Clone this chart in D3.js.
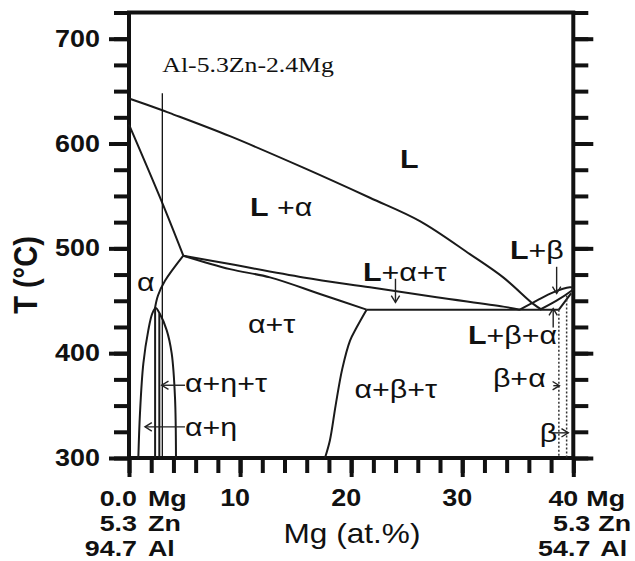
<!DOCTYPE html>
<html>
<head>
<meta charset="utf-8">
<script src="https://cdn.jsdelivr.net/npm/d3@7"></script>
<style>
  body { margin: 0; background: #fff; }
  svg { display: block; }
  text { fill: #111; }
</style>
</head>
<body>
<svg id="chart" width="635" height="561"></svg>
<script>
// ---- Phase boundaries of the Al-5.3Zn-xMg isopleth: [Mg at.%, T °C] ----
const liquidusAlpha = [[0, 643], [2.94, 632], [3.69, 629], [9.09, 607], [15.69, 577], [21.69, 548.3], [26.19, 526], [30.69, 494.5], [33.69, 472.3], [36.39, 447], [37.15, 441.5]];
const solidusAlpha = [[0, 618], [2.93, 545], [4.89, 493]];
const solvusAlpha = [[4.89, 493], [3.24, 469], [2.61, 455], [2.34, 443]];
const upperLAT = [[4.89, 493], [9.09, 485], [15.69, 472.3], [21.69, 462.8], [27.7, 453.3], [33.69, 444.4], [35.2, 441.5]];
const lowerLAT = [[4.89, 493], [9.09, 480.2], [12.69, 472.3], [17.19, 456.5], [21.39, 441.5]];
const eutecticLine = [[21.39, 441.5], [38.7, 441.5]];
const tauBetaBoundary = [[21.39, 441.5], [20.5, 424.7], [19.9, 412], [19.2, 385], [18.6, 350], [18.09, 317], [17.64, 300]];
const etaSolvus = [[0.84, 300], [0.99, 343], [1.29, 390], [1.74, 422], [2.1, 438], [2.4, 443], [2.75, 438], [3.39, 422], [3.84, 400], [4.14, 358], [4.23, 300]];
const etaTauLeft = [[2.35, 443], [2.35, 300]];
const etaTauRight = [[2.73, 438], [2.73, 300]];
const betaLiquidus = [[35.19, 441.5], [36.7, 450.1], [38.19, 458], [39.69, 462.8], [40, 462.5]];
const betaSolidus = [[36.99, 441.5], [38.49, 450.1], [39.84, 459.6], [40, 461]];
const betaSolvus = [[38.7, 441.5], [39.8, 457]];
const betaDotted = [[[38.7, 441.5], [38.7, 300]], [[39.4, 455], [39.4, 300]]];
const alloyLine = [[3.0, 648], [3.0, 300]];

// ---- Axis ticks and labels ----
const xMinorTicks = d3.range(0, 41, 2);
const xMajorTicks = [0, 10, 20, 30, 40];
const xTickLabels = [10, 20, 30];
const yMinorTicks = d3.range(300, 726, 25);
const yMajorTicks = [300, 400, 500, 600, 700];
const yTickLabels = [300, 400, 500, 600, 700];
const leftCorner = [["0.0", "Mg"], ["5.3", "Zn"], ["94.7", "Al"]];
const rightCorner = [["40", "Mg"], ["5.3", "Zn"], ["54.7", "Al"]];
const alloyName = "Al-5.3Zn-2.4Mg";

// ---- Phase-field labels: position [Mg, T], parts (bold L, regular rest) ----
const fieldLabels = [
  { at: [24.39, 576.5], parts: [["L", 1]] },
  { at: [10.89, 531], parts: [["L", 1], [" +α", 0]] },
  { at: [21.06, 469], parts: [["L", 1], ["+α+τ", 0]] },
  { at: [34.29, 490], parts: [["L", 1], ["+β", 0]] },
  { at: [30.51, 408.3], parts: [["L", 1], ["+β+α", 0]] },
  { at: [32.76, 367.5], parts: [["β+α", 0]] },
  { at: [36.99, 315.2], parts: [["β", 0]] },
  { at: [10.71, 419], parts: [["α+τ", 0]] },
  { at: [0.72, 459], parts: [["α", 0]] },
  { at: [20.3, 357], parts: [["α+β+τ", 0]] },
  { at: [5.04, 363], parts: [["α+η+τ", 0]] },
  { at: [5.04, 321], parts: [["α+η", 0]] }
];
// Pointer arrows: from -> to (head at "to")
const pointers = [
  { from: [23.99, 471], to: [23.99, 448.5] },
  { from: [38.5, 482.4], to: [38.5, 457] },
  { from: [38.19, 424.5], to: [38.19, 442.5] },
  { from: [38.2, 369], to: [38.75, 369] },
  { from: [38.05, 324], to: [39.55, 324] },
  { from: [5.04, 369.4], to: [2.94, 369.4] },
  { from: [5.04, 329.7], to: [1.44, 329.7] }
];

const SX = 1.17; // horizontal stretch of the lettering
const SANS = "'Liberation Sans', Arial, sans-serif";
const SERIF = "'Liberation Serif', 'Times New Roman', serif";
const INK = "#111";

const svg = d3.select("#chart");
const x = d3.scaleLinear().domain([0, 40]).range([129, 573.3]);
const y = d3.scaleLinear().domain([300, 725]).range([458, 12.5]);

const line = d3.line().x(d => x(d[0])).y(d => y(d[1]));
const smooth = d3.line().x(d => x(d[0])).y(d => y(d[1])).curve(d3.curveCatmullRom.alpha(0.5));

// ---- axes (ticks only; frame drawn separately) ----
function styleTicks(g) {
  g.select(".domain").remove();
  g.selectAll(".tick line").attr("stroke", INK).attr("stroke-width", 4);
  g.selectAll(".tick text").remove();
}
const gxMinor = svg.append("g").attr("transform", `translate(0,${y(300)})`)
  .call(d3.axisBottom(x).tickValues(xMinorTicks).tickSize(15).tickSizeOuter(0));
styleTicks(gxMinor);
const gxMajor = svg.append("g").attr("transform", `translate(0,${y(300)})`)
  .call(d3.axisBottom(x).tickValues(xMajorTicks).tickSize(19).tickSizeOuter(0));
styleTicks(gxMajor);
[[d3.axisLeft, x(0)], [d3.axisRight, x(40)]].forEach(([ax, px]) => {
  const gMinor = svg.append("g").attr("transform", `translate(${px},0)`)
    .call(ax(y).tickValues(yMinorTicks).tickSize(15).tickSizeOuter(0));
  styleTicks(gMinor);
  const gMajor = svg.append("g").attr("transform", `translate(${px},0)`)
    .call(ax(y).tickValues(yMajorTicks).tickSize(20).tickSizeOuter(0));
  styleTicks(gMajor);
});

// frame
svg.append("path")
  .attr("d", `M${x(0)},${y(300)} L${x(0)},${y(725)} L${x(40)},${y(725)} L${x(40)},${y(300)} Z`)
  .attr("fill", "none").attr("stroke", INK).attr("stroke-width", 4)
  .attr("stroke-linejoin", "miter").attr("stroke-linecap", "square");

// ---- text helper ----
function putText(px, py, str, { size = 23, weight = "bold", anchor = "start", family = SANS, sx = SX } = {}) {
  return svg.append("text")
    .attr("transform", `translate(${px},${py}) scale(${sx},1)`)
    .attr("text-anchor", anchor)
    .attr("font-family", family)
    .attr("font-size", size)
    .attr("font-weight", weight)
    .text(str);
}

// y tick labels
yTickLabels.forEach(v => putText(x(0) - 29, y(v) + 8, String(v), { anchor: "end" }));
// x tick labels
xTickLabels.forEach(v => putText(x(v) - 5, 506, String(v), { anchor: "middle" }));
// composition labels at both ends of the section
const rowBase = [506, 531, 556];
const corner = { size: 22, sx: 1.22 };
leftCorner.forEach(([num, el], i) => {
  putText(x(0) + 8, rowBase[i], num, { ...corner, anchor: "end" });
  putText(x(0) + 19, rowBase[i], el, corner);
});
rightCorner.forEach(([num, el], i) => {
  const end = i === 0 ? x(40) + 5 : x(40) + 17;
  putText(end, rowBase[i], num, { ...corner, anchor: "end" });
  putText(end + (i === 2 ? 10 : 8), rowBase[i], el, corner);
});
// axis titles
putText(352, 543, "Mg (at.%)", { size: 27, weight: "normal", anchor: "middle" });
svg.append("text")
  .attr("transform", `translate(37,275) scale(${SX},1) rotate(-90)`)
  .attr("text-anchor", "middle")
  .attr("font-family", SANS).attr("font-size", 29).attr("font-weight", "bold")
  .text("T (°C)");

// ---- phase boundaries ----
const gLines = svg.append("g").attr("fill", "none").attr("stroke", "#1a1a1a")
  .attr("stroke-width", 2).attr("stroke-linejoin", "round");
[liquidusAlpha, solidusAlpha, solvusAlpha, upperLAT, lowerLAT, tauBetaBoundary, etaSolvus,
 betaLiquidus, betaSolidus]
  .forEach(d => gLines.append("path").attr("d", smooth(d)));
[eutecticLine, etaTauLeft, etaTauRight, betaSolvus]
  .forEach(d => gLines.append("path").attr("d", line(d)));
betaDotted.forEach(d => svg.append("path").attr("d", line(d))
  .attr("fill", "none").attr("stroke", "#333").attr("stroke-width", 1.5)
  .attr("stroke-dasharray", "2,2"));
svg.append("path").attr("d", line(alloyLine))
  .attr("fill", "none").attr("stroke", "#111").attr("stroke-width", 1.3);

// alloy name
putText(x(alloyLine[0][0]), 72, alloyName, { size: 22, weight: "normal", family: SERIF });

// ---- field labels ----
fieldLabels.forEach(l => {
  const t = svg.append("text")
    .attr("transform", `translate(${x(l.at[0])},${y(l.at[1])}) scale(${SX},1)`)
    .attr("font-family", SANS).attr("font-size", 26);
  l.parts.forEach(([s, b]) => t.append("tspan").attr("font-weight", b ? "bold" : "normal").text(s));
});

// ---- pointer arrows ----
const gArrows = svg.append("g").attr("fill", "none").attr("stroke", "#222").attr("stroke-width", 1.4);
pointers.forEach(p => {
  const x1 = x(p.from[0]), y1 = y(p.from[1]), x2 = x(p.to[0]), y2 = y(p.to[1]);
  gArrows.append("path").attr("d", `M${x1},${y1} L${x2},${y2}`);
  const a = Math.atan2(y2 - y1, x2 - x1), len = 8, spread = 0.55;
  const hx1 = x2 - len * Math.cos(a - spread), hy1 = y2 - len * Math.sin(a - spread);
  const hx2 = x2 - len * Math.cos(a + spread), hy2 = y2 - len * Math.sin(a + spread);
  gArrows.append("path").attr("d", `M${hx1},${hy1} L${x2},${y2} L${hx2},${hy2}`);
});
</script>
</body>
</html>
